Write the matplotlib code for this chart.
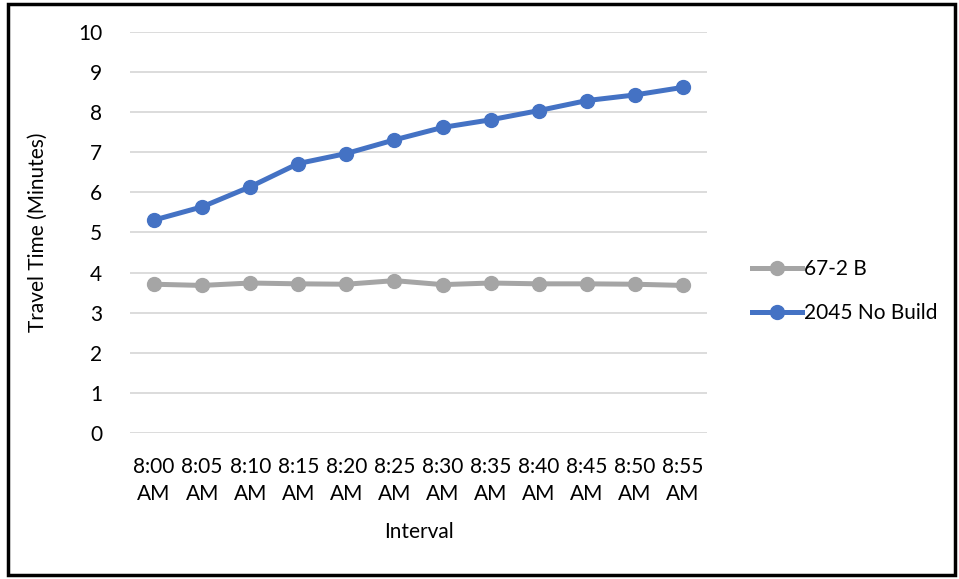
import matplotlib
matplotlib.use("Agg")
import matplotlib.pyplot as plt
from matplotlib.patches import Rectangle

plt.rcParams['font.family'] = ['Lato', 'DejaVu Sans']

categories = ["8:00\nAM", "8:05\nAM", "8:10\nAM", "8:15\nAM", "8:20\nAM", "8:25\nAM",
              "8:30\nAM", "8:35\nAM", "8:40\nAM", "8:45\nAM", "8:50\nAM", "8:55\nAM"]
series_672b = [3.71, 3.68, 3.74, 3.72, 3.71, 3.80, 3.70, 3.74, 3.72, 3.72, 3.71, 3.68]
series_2045 = [5.31, 5.64, 6.14, 6.72, 6.97, 7.31, 7.62, 7.81, 8.04, 8.29, 8.43, 8.62]
y_ticks = [0, 1, 2, 3, 4, 5, 6, 7, 8, 9, 10]

FS = 15

fig = plt.figure(figsize=(9.59, 5.79), dpi=100)
ax = fig.add_axes([130/959, 1-433/579, 577/959, 401/579])

x = list(range(len(categories)))
ax.plot(x, series_672b, color='#A5A5A5', lw=3.6, marker='o', ms=10, label='67-2 B', zorder=3)
ax.plot(x, series_2045, color='#4472C4', lw=3.6, marker='o', ms=10, label='2045 No Build', zorder=3)

ax.set_xlim(-0.5, len(categories) - 0.5)
ax.set_ylim(0, 10)
ax.set_yticks(y_ticks)
ax.set_xticks(x)
ax.set_xticklabels(categories, fontsize=FS, linespacing=1.45)
ax.tick_params(axis='y', labelsize=FS, length=0, pad=20)
ax.tick_params(axis='x', length=0, pad=17)
ax.yaxis.grid(True, color='#D9D9D9', lw=1.3)
ax.set_axisbelow(True)
for s in ax.spines.values():
    s.set_visible(False)

ax.set_ylabel('Travel Time (Minutes)', fontsize=FS, labelpad=22)
ax.set_xlabel('Interval', fontsize=FS, labelpad=13)

ax.legend(loc='center left', bbox_to_anchor=(733/959, 1-291/579), bbox_transform=fig.transFigure,
          frameon=False, fontsize=FS, handlelength=2.4, labelspacing=1.15, handletextpad=0.1)

fig.patches.append(Rectangle((8/959, 4/579), 947/959, 571/579, transform=fig.transFigure,
                             fill=False, edgecolor='black', lw=2.5))

fig.savefig('out.png', dpi=100)
